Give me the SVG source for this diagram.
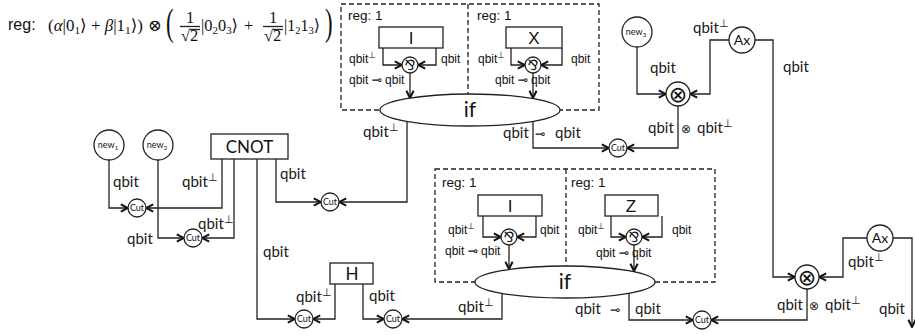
<svg xmlns="http://www.w3.org/2000/svg" width="915" height="335" viewBox="0 0 915 335">
<defs>
<marker id="ah" viewBox="0 0 10 10" refX="9" refY="5" markerWidth="9" markerHeight="10" markerUnits="userSpaceOnUse" orient="auto">
<path d="M1,1 L9,5 L1,9" fill="none" stroke="#111" stroke-width="2.2"/>
</marker>
</defs>
<style>
.ln{fill:none;stroke:#222;stroke-width:1.3}
.dash{fill:none;stroke:#222;stroke-width:1.3;stroke-dasharray:5 3}
.nd{fill:#fff;stroke:#222;stroke-width:1.3}
.t{font-family:Lato,"Liberation Sans",sans-serif;font-size:15px;fill:#1a1a1a}
.s{font-family:"Liberation Sans",Arial,sans-serif;font-size:12px;fill:#111}
.r{font-family:"Liberation Sans",Arial,sans-serif;font-size:13.5px;fill:#111}
.b{font-family:"Liberation Sans",Arial,sans-serif;font-size:17px;fill:#111;text-anchor:middle}
.c{font-family:Lato,"Liberation Sans",sans-serif;font-size:9px;fill:#111;text-anchor:middle}
.m{font-family:"Liberation Serif","DejaVu Serif",serif;font-size:16.5px;fill:#111}
.big{font-family:"Liberation Serif","DejaVu Serif",serif;font-size:38px;fill:#111}
.sym{font-family:"DejaVu Sans",sans-serif}
.par{font-family:"DejaVu Sans",sans-serif;font-size:14px;fill:#111;text-anchor:middle}
.ot{font-family:"DejaVu Sans",sans-serif;font-size:22px;fill:#111;text-anchor:middle}
.if{font-family:Lato,"Liberation Sans",sans-serif;font-size:21px;fill:#111;text-anchor:middle}
.bx{font-family:Lato,"Liberation Sans",sans-serif;font-size:17px;fill:#111;text-anchor:middle}
.ax{font-family:Lato,"Liberation Sans",sans-serif;font-size:14px;fill:#111;text-anchor:middle}
</style>

<g id="formula">
<text x="8" y="30" style="font-family:'Liberation Sans',Arial,sans-serif;font-size:16px;fill:#111">reg:</text>
<text class="m" x="48" y="31" textLength="95" lengthAdjust="spacingAndGlyphs">(<tspan font-style="italic">α</tspan>|0<tspan font-size="11" dy="3">1</tspan><tspan dy="-3">⟩ + </tspan><tspan font-style="italic">β</tspan>|1<tspan font-size="11" dy="3">1</tspan><tspan dy="-3">⟩)</tspan></text>
<text class="m" x="148" y="31">⊗</text>
<text class="big" x="0" y="0" transform="translate(166,35) scale(0.6,1)">(</text>
<text class="m" x="190" y="23" text-anchor="middle">1</text>
<line class="ln" x1="180" y1="26.5" x2="200" y2="26.5" stroke-width="1"/>
<text class="m" x="181" y="41">√2</text>
<line class="ln" x1="190" y1="29.5" x2="200" y2="29.5" stroke-width="0.9"/>
<text class="m" x="201" y="31" textLength="37" lengthAdjust="spacingAndGlyphs">|0<tspan font-size="11" dy="3">2</tspan><tspan dy="-3">0</tspan><tspan font-size="11" dy="3">3</tspan><tspan dy="-3">⟩</tspan></text>
<text class="m" x="244" y="31">+</text>
<text class="m" x="273" y="23" text-anchor="middle">1</text>
<line class="ln" x1="263" y1="26.5" x2="283" y2="26.5" stroke-width="1"/>
<text class="m" x="264" y="41">√2</text>
<line class="ln" x1="273" y1="29.5" x2="283" y2="29.5" stroke-width="0.9"/>
<text class="m" x="284" y="31" textLength="36" lengthAdjust="spacingAndGlyphs">|1<tspan font-size="11" dy="3">2</tspan><tspan dy="-3">1</tspan><tspan font-size="11" dy="3">3</tspan><tspan dy="-3">⟩</tspan></text>
<text class="big" x="0" y="0" transform="translate(325,35) scale(0.6,1)">)</text>
</g>

<g id="frames">
<rect class="dash" x="341" y="4" width="258" height="106"/>
<line class="dash" x1="468" y1="4" x2="468" y2="96"/>
<rect class="dash" x="435" y="169" width="280" height="113"/>
<line class="dash" x1="566" y1="169" x2="566" y2="267"/>
</g>

<g id="connectors" class="ln" marker-end="url(#ah)">
<path d="M383,48 V65 H402"/>
<path d="M436,48 V65 H418"/>
<path d="M410,73 V98"/>
<path d="M511,48 V65 H525"/>
<path d="M562,48 V65 H541"/>
<path d="M533,73 V98"/>
<path d="M407,121 V202 H339"/>
<path d="M533,121 V148 H609"/>
<path d="M637,47 V94 H666"/>
<path d="M729,40 H710 V94 H690"/>
<path d="M755,40 H773 V277 H795"/>
<path d="M678,106 V148 H627"/>
<path d="M109,160 V208 H128"/>
<path d="M222,159 V208 H146"/>
<path d="M158,160 V238 H184"/>
<path d="M234,159 V238 H202"/>
<path d="M276,159 V202 H321"/>
<path d="M257,159 V319 H295"/>
<path d="M335,284 V319 H313"/>
<path d="M363,284 V319 H384"/>
<path d="M502,293 V319 H402"/>
<path d="M483,216 V237 H501"/>
<path d="M536,216 V237 H517"/>
<path d="M509,245 V269"/>
<path d="M611,216 V237 H626"/>
<path d="M662,216 V237 H642"/>
<path d="M634,245 V271"/>
<path d="M629,293 V320 H693"/>
<path d="M867,238 H843 V277 H819"/>
<path d="M893,238 H912 V327"/>
<path d="M807,289 V320 H711"/>
</g>

<g id="if-top"><ellipse class="nd" cx="470" cy="110" rx="90" ry="16"/><text class="if" x="470" y="117">if</text></g>
<g id="reg-top-left"><text class="r" x="348" y="20">reg: 1</text></g>
<g id="box-I-top"><rect class="nd" x="379" y="27" width="64" height="21"/><text class="b" x="411" y="44">I</text></g>
<g id="par-I-top"><circle class="nd" cx="410" cy="65" r="8"/><text class="par" x="410" y="70">⅋</text></g>
<g id="reg-top-right"><text class="r" x="477" y="20">reg: 1</text></g>
<g id="box-X"><rect class="nd" x="506" y="27" width="56" height="21"/><text class="b" x="534" y="44">X</text></g>
<g id="par-X"><circle class="nd" cx="533" cy="65" r="8"/><text class="par" x="533" y="70">⅋</text></g>

<g id="if-bottom"><ellipse class="nd" cx="565" cy="282" rx="90" ry="16"/><text class="if" x="565" y="289">if</text></g>
<g id="reg-bot-left"><text class="r" x="442" y="187">reg: 1</text></g>
<g id="box-I-bot"><rect class="nd" x="478" y="195" width="64" height="21"/><text class="b" x="510" y="212">I</text></g>
<g id="par-I-bot"><circle class="nd" cx="509" cy="237" r="8"/><text class="par" x="509" y="242">⅋</text></g>
<g id="reg-bot-right"><text class="r" x="571" y="187">reg: 1</text></g>
<g id="box-Z"><rect class="nd" x="605" y="195" width="53" height="21"/><text class="b" x="631" y="212">Z</text></g>
<g id="par-Z"><circle class="nd" cx="634" cy="237" r="8"/><text class="par" x="634" y="242">⅋</text></g>

<g id="new1"><circle class="nd" cx="109" cy="145" r="15"/><text class="c" x="108" y="148">new<tspan font-size="6" dy="2">1</tspan></text></g>
<g id="new2"><circle class="nd" cx="158" cy="145" r="15"/><text class="c" x="157" y="148">new<tspan font-size="6" dy="2">2</tspan></text></g>
<g id="cnot"><rect class="nd" x="211" y="134" width="77" height="25"/><text class="bx" x="249.5" y="153">CNOT</text></g>
<g id="cut1"><circle class="nd" cx="137" cy="208" r="9"/><text class="c" x="137" y="211">Cut</text></g>
<g id="cut2"><circle class="nd" cx="193" cy="238" r="9"/><text class="c" x="193" y="241">Cut</text></g>
<g id="cut-mid"><circle class="nd" cx="330" cy="202" r="9"/><text class="c" x="330" y="205">Cut</text></g>
<g id="h"><rect class="nd" x="330" y="263" width="43" height="21"/><text class="bx" x="352" y="280">H</text></g>
<g id="cut3"><circle class="nd" cx="304" cy="319" r="9"/><text class="c" x="304" y="322">Cut</text></g>
<g id="cut4"><circle class="nd" cx="393" cy="319" r="9"/><text class="c" x="393" y="322">Cut</text></g>

<g id="new3"><circle class="nd" cx="637" cy="32" r="15"/><text class="c" x="636" y="35">new<tspan font-size="6" dy="2">3</tspan></text></g>
<g id="tensor-top"><circle class="nd" cx="678" cy="94" r="12"/><text class="ot" x="678" y="101.5">⊗</text></g>
<g id="ax-top"><circle class="nd" cx="742" cy="40" r="13"/><text class="ax" x="742" y="45">Ax</text></g>
<g id="cut-top"><circle class="nd" cx="618" cy="148" r="9"/><text class="c" x="618" y="151">Cut</text></g>
<g id="tensor-bot"><circle class="nd" cx="807" cy="277" r="12"/><text class="ot" x="807" y="284.5">⊗</text></g>
<g id="ax-bot"><circle class="nd" cx="880" cy="238" r="13"/><text class="ax" x="880" y="243">Ax</text></g>
<g id="cut-bot"><circle class="nd" cx="702" cy="320" r="9"/><text class="c" x="702" y="323">Cut</text></g>

<g id="labels">
<text class="s" x="349" y="63">qbit<tspan font-size="9" dy="-5">⊥</tspan></text>
<text class="s" x="441" y="63">qbit</text>
<text class="s" x="349" y="84">qbit <tspan class="sym">⊸</tspan> qbit</text>
<text class="s" x="478" y="63">qbit<tspan font-size="9" dy="-5">⊥</tspan></text>
<text class="s" x="571" y="63">qbit</text>
<text class="s" x="495" y="84">qbit <tspan class="sym">⊸</tspan> qbit</text>

<text class="s" x="448" y="234">qbit<tspan font-size="9" dy="-5">⊥</tspan></text>
<text class="s" x="540" y="234">qbit</text>
<text class="s" x="445" y="255">qbit <tspan class="sym">⊸</tspan> qbit</text>
<text class="s" x="578" y="234">qbit<tspan font-size="9" dy="-5">⊥</tspan></text>
<text class="s" x="672" y="234">qbit</text>
<text class="s" x="596" y="257">qbit <tspan class="sym">⊸</tspan> qbit</text>

<text class="t" x="363" y="137">qbit<tspan font-size="11" dy="-6">⊥</tspan></text>
<text class="t" x="503" y="138">qbit</text>
<text class="t" x="535" y="138"><tspan class="sym" font-size="12">⊸</tspan></text>
<text class="t" x="555" y="138">qbit</text>

<text class="t" x="650" y="73">qbit</text>
<text class="t" x="693" y="33">qbit<tspan font-size="11" dy="-6">⊥</tspan></text>
<text class="t" x="783" y="72">qbit</text>
<text class="t" x="648" y="133">qbit</text>
<text class="t" x="681" y="133"><tspan class="sym" font-size="12">⊗</tspan></text>
<text class="t" x="697" y="133">qbit<tspan font-size="11" dy="-6">⊥</tspan></text>

<text class="t" x="113" y="187">qbit</text>
<text class="t" x="182" y="187">qbit<tspan font-size="11" dy="-6">⊥</tspan></text>
<text class="t" x="127" y="244">qbit</text>
<text class="t" x="198" y="229">qbit<tspan font-size="11" dy="-6">⊥</tspan></text>
<text class="t" x="280" y="179">qbit</text>
<text class="t" x="263" y="257">qbit</text>
<text class="t" x="296" y="302">qbit<tspan font-size="11" dy="-6">⊥</tspan></text>
<text class="t" x="369" y="301">qbit</text>
<text class="t" x="458" y="312">qbit<tspan font-size="11" dy="-6">⊥</tspan></text>
<text class="t" x="575" y="314">qbit</text>
<text class="t" x="610" y="314"><tspan class="sym" font-size="12">⊸</tspan></text>
<text class="t" x="635" y="314">qbit</text>

<text class="t" x="848" y="267">qbit<tspan font-size="11" dy="-6">⊥</tspan></text>
<text class="t" x="879" y="314">qbit</text>
<text class="t" x="777" y="310">qbit</text>
<text class="t" x="809" y="310"><tspan class="sym" font-size="12">⊗</tspan></text>
<text class="t" x="825" y="310">qbit<tspan font-size="11" dy="-6">⊥</tspan></text>
</g>
</svg>
